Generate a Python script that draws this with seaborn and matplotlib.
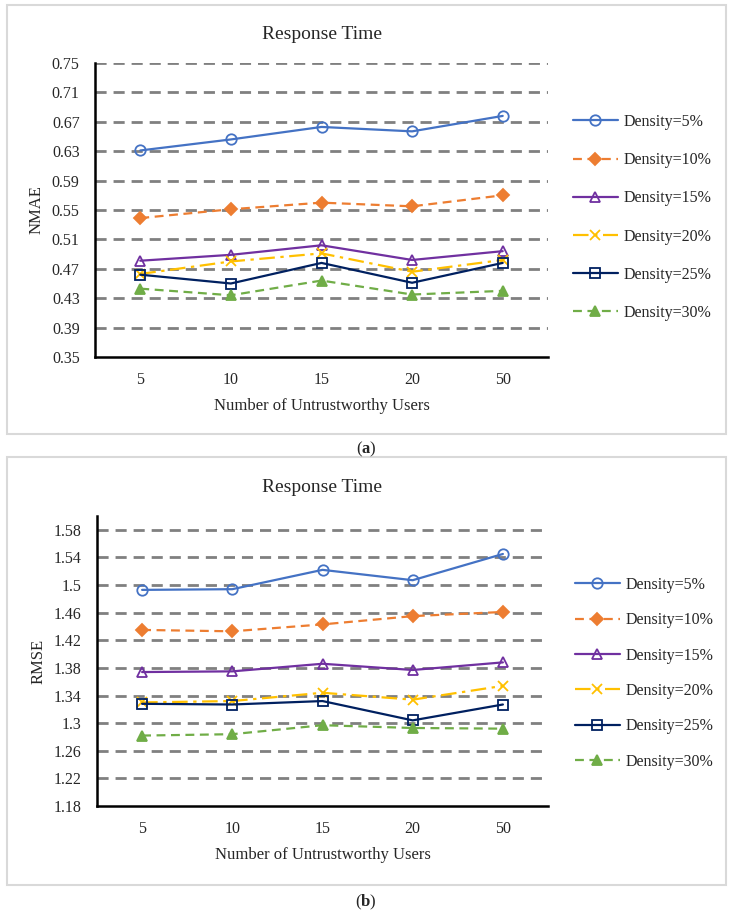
import numpy as np
import pandas as pd
import matplotlib
matplotlib.use("Agg")
import matplotlib.pyplot as plt
from matplotlib.patches import Rectangle
import seaborn as sns

# data
users = ["5", "10", "15", "20", "50"]
densities = ["Density=5%", "Density=10%", "Density=15%", "Density=20%", "Density=25%", "Density=30%"]

nmae_5 = [0.631, 0.646, 0.663, 0.657, 0.678]
nmae_10 = [0.539, 0.551, 0.560, 0.555, 0.570]
nmae_15 = [0.481, 0.489, 0.502, 0.482, 0.494]
nmae_20 = [0.463, 0.480, 0.491, 0.466, 0.482]
nmae_25 = [0.462, 0.450, 0.478, 0.451, 0.478]
nmae_30 = [0.443, 0.434, 0.454, 0.435, 0.440]

rmse_5 = [1.493, 1.494, 1.522, 1.507, 1.545]
rmse_10 = [1.435, 1.433, 1.443, 1.455, 1.461]
rmse_15 = [1.374, 1.375, 1.386, 1.377, 1.388]
rmse_20 = [1.330, 1.332, 1.344, 1.334, 1.354]
rmse_25 = [1.328, 1.327, 1.332, 1.304, 1.327]
rmse_30 = [1.282, 1.284, 1.297, 1.293, 1.292]

nmae_ticks = [0.35, 0.39, 0.43, 0.47, 0.51, 0.55, 0.59, 0.63, 0.67, 0.71, 0.75]
nmae_labels = ["0.35", "0.39", "0.43", "0.47", "0.51", "0.55", "0.59", "0.63", "0.67", "0.71", "0.75"]
rmse_ticks = [1.18, 1.22, 1.26, 1.30, 1.34, 1.38, 1.42, 1.46, 1.50, 1.54, 1.58]
rmse_labels = ["1.18", "1.22", "1.26", "1.3", "1.34", "1.38", "1.42", "1.46", "1.5", "1.54", "1.58"]

colors = ["#4472C4", "#ED7D31", "#7030A0", "#FFC000", "#002060", "#70AD47"]
markers = ["o", "D", "^", "x", "s", "^"]
filled = [False, True, False, True, False, True]
styles = ["-", (0, (4, 2.5)), "-", (0, (7, 2.5, 1.5, 2.5)), "-", (0, (4, 2.5))]

sns.set_style("white")
plt.rcParams["font.family"] = ["Liberation Serif", "DejaVu Serif"]
plt.rcParams["mathtext.fontset"] = "custom"
plt.rcParams["mathtext.rm"] = "Liberation Serif"
plt.rcParams["mathtext.bf"] = "Liberation Serif:bold"

W, H = 733, 916
fig = plt.figure(figsize=(W / 100, H / 100), dpi=100)


def box(left, top, right, bottom):
    return [left / W, 1 - bottom / H, (right - left) / W, (bottom - top) / H]


def draw_panel(ax, series, ticks, labels, ylim, ylabel, legend_xy, spacing):
    x = np.arange(len(users))
    for i, vals in enumerate(series):
        df = pd.DataFrame({"x": x, "y": vals})
        sns.lineplot(data=df, x="x", y="y", ax=ax, color=colors[i], linestyle=styles[i],
                     linewidth=1.6, marker=markers[i], markersize=7.5 if markers[i] != "D" else 6,
                     markerfacecolor=colors[i] if filled[i] else "none",
                     markeredgecolor=colors[i], markeredgewidth=1.3, label=densities[i])
    ax.set_xlim(-0.5, len(users) - 0.5)
    ax.set_ylim(*ylim)
    ax.set_xticks(x)
    ax.set_xticklabels(users)
    ax.set_yticks(ticks)
    ax.set_yticklabels(labels)
    for t in ticks[1:]:
        ax.axhline(t, color="#808080", linewidth=2, linestyle=(0, (4, 2.5)), zorder=0)
    ax.tick_params(length=0, labelsize=11.5)
    ax.tick_params(axis="y", pad=11)
    ax.tick_params(axis="x", pad=11)
    for s in ["top", "right"]:
        ax.spines[s].set_visible(False)
    for s in ["left", "bottom"]:
        ax.spines[s].set_color("black")
        ax.spines[s].set_linewidth(1.8)
    ax.set_xlabel("Number of Untrustworthy Users", fontsize=12, labelpad=7)
    ax.set_ylabel(ylabel, fontsize=12, labelpad=5)
    ax.set_title("Response Time", fontsize=14, pad=17)
    ax.legend(loc="upper left", bbox_to_anchor=(legend_xy[0] / W, 1 - legend_xy[1] / H),
              bbox_transform=fig.transFigure, frameon=False, fontsize=11.5,
              handlelength=2.8, handletextpad=0.35, labelspacing=spacing,
              borderpad=0, borderaxespad=0)


ax1 = fig.add_axes(box(95, 63, 548, 357))
draw_panel(ax1, [nmae_5, nmae_10, nmae_15, nmae_20, nmae_25, nmae_30],
           nmae_ticks, nmae_labels, (0.35, 0.75), "NMAE", (573, 114), 1.39)

ax2 = fig.add_axes(box(97, 516, 548, 806))
draw_panel(ax2, [rmse_5, rmse_10, rmse_15, rmse_20, rmse_25, rmse_30],
           rmse_ticks, rmse_labels, (1.18, 1.60), "RMSE", (575, 577), 1.21)

# light grey frames around the two panels
for top, bottom in [(5, 434), (457, 885)]:
    fig.patches.append(Rectangle((7 / W, 1 - bottom / H), 719 / W, (bottom - top) / H,
                                 transform=fig.transFigure, fill=False,
                                 edgecolor="#d9d9d9", linewidth=1.5))

fig.text(366 / W, 1 - 449 / H, r"($\mathbf{a}$)", ha="center", va="center", fontsize=12)
fig.text(366 / W, 1 - 902 / H, r"($\mathbf{b}$)", ha="center", va="center", fontsize=12)

fig.savefig("out.png", dpi=100)
